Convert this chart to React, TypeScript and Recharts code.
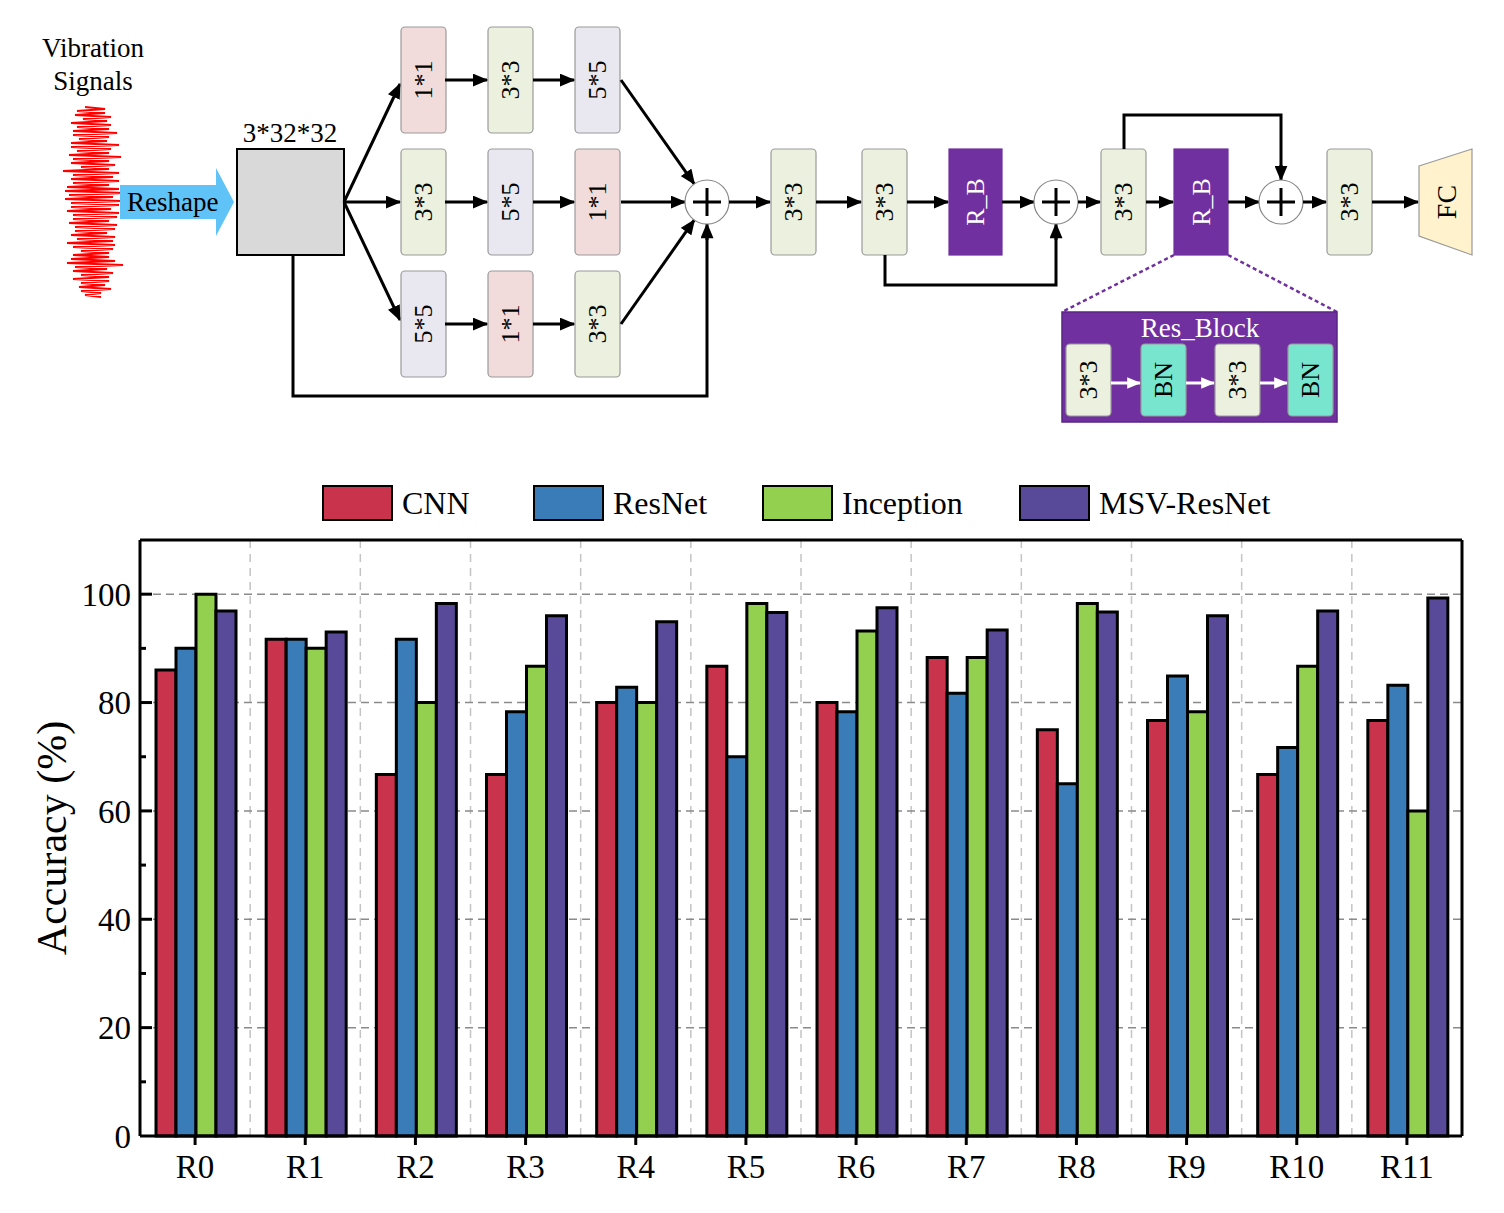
import React from 'react';
import { BarChart, Bar, XAxis, YAxis, CartesianGrid, Legend } from 'recharts';

const SERIF = '"Liberation Serif", "Times New Roman", Times, serif';

// ---------- chart data ----------
const categories = ['R0', 'R1', 'R2', 'R3', 'R4', 'R5', 'R6', 'R7', 'R8', 'R9', 'R10', 'R11'];
const cnnValues = [86, 91.7, 66.7, 66.7, 80, 86.7, 80, 88.3, 75, 76.7, 66.7, 76.7];
const resnetValues = [90, 91.7, 91.7, 78.3, 82.8, 70, 78.3, 81.7, 65, 84.9, 71.7, 83.2];
const inceptionValues = [100, 90, 80, 86.7, 80, 98.3, 93.2, 88.3, 98.3, 78.3, 86.7, 60];
const msvValues = [96.9, 93, 98.3, 96, 94.9, 96.6, 97.5, 93.4, 96.7, 96, 96.9, 99.3];
const seriesNames = ['CNN', 'ResNet', 'Inception', 'MSV-ResNet'];
const seriesColors = ['#C9334C', '#397CB7', '#93D050', '#584A99'];
const yTicks = [0, 10, 20, 30, 40, 50, 60, 70, 80, 90, 100];
const yMajorTicks = [20, 40, 60, 80, 100];
const yLabel = 'Accuracy (%)';

const chartData = categories.map((name, i) => ({
  name,
  CNN: cnnValues[i],
  ResNet: resnetValues[i],
  Inception: inceptionValues[i],
  'MSV-ResNet': msvValues[i],
}));

// ---------- diagram content ----------
const waveAmps = [10, 14, 18, 12, 20, 16, 22, 18, 14, 24, 20, 16, 26, 18, 22, 14, 28, 20, 24, 18, 26, 30, 22, 28,
  24, 20, 26, 22, 18, 24, 20, 16, 22, 18, 24, 20, 14, 18, 22, 28, 16, 20, 14, 18, 12, 16, 10, 8];
const branchRows = [['1*1', '3*3', '5*5'], ['3*3', '5*5', '1*1'], ['5*5', '1*1', '3*3']];
const kernelFill: Record<string, string> = { '1*1': '#F2DCDB', '3*3': '#EBF1DE', '5*5': '#E9E7EF' };
const PURPLE = '#7030A0';

const Block = ({ x, y, w, h, fill, label, color = '#000', stroke = '#9a9a9a', rx = 4, fs = 26 }: any) => (
  <g>
    <rect x={x} y={y} width={w} height={h} rx={rx} fill={fill} stroke={stroke} strokeWidth={1.2} />
    <text
      x={x + w / 2}
      y={y + h / 2}
      transform={`rotate(-90 ${x + w / 2} ${y + h / 2})`}
      textAnchor="middle"
      dominantBaseline="central"
      fontSize={fs}
      fill={color}
      fontFamily={SERIF}
    >
      {label}
    </text>
  </g>
);

const toCircle = (x1: number, y1: number, cx: number, cy: number, r: number) => {
  const dx = cx - x1;
  const dy = cy - y1;
  const len = Math.sqrt(dx * dx + dy * dy);
  return [cx - (r * dx) / len, cy - (r * dy) / len];
};

const Plus = ({ cx, cy }: any) => (
  <g>
    <circle cx={cx} cy={cy} r={22} fill="#fff" stroke="#888" strokeWidth={1.2} />
    <line x1={cx - 14} x2={cx + 14} y1={cy} y2={cy} stroke="#000" strokeWidth={3} />
    <line x1={cx} x2={cx} y1={cy - 14} y2={cy + 14} stroke="#000" strokeWidth={3} />
  </g>
);

const Arrow = ({ x1, y1, x2, y2, white }: any) => (
  <line x1={x1} y1={y1} x2={x2} y2={y2} stroke={white ? '#fff' : '#000'} strokeWidth={3}
    markerEnd={white ? 'url(#ahWhite)' : 'url(#ahBlack)'} />
);

const Diagram = () => {
  const colX = [401, 488, 575];
  const rowTop = [27, 149, 271];
  const rowMid = [80, 202, 324];
  const bw = 45;
  const bh = 106;
  const c1 = [707, 202];
  const c2 = [1056, 202];
  const c3 = [1281, 202];
  const wavePts = waveAmps
    .map((a, i) => {
      const y = 107 + i * 4;
      const off = i % 3 === 0 ? 2 : i % 3 === 1 ? -2 : 0;
      return `${93 - a + off},${y} ${93 + a + off},${y + 2}`;
    })
    .join(' ');
  const e1 = toCircle(621, 80, c1[0], c1[1], 22);
  const e3 = toCircle(621, 324, c1[0], c1[1], 22);
  return (
    <svg width={1504} height={460} style={{ position: 'absolute', left: 0, top: 0 }}>
      <defs>
        <marker id="ahBlack" viewBox="0 0 12 10" refX="11" refY="5" markerWidth="16" markerHeight="13"
          markerUnits="userSpaceOnUse" orient="auto">
          <path d="M0,0 L12,5 L0,10 z" fill="#000" />
        </marker>
        <marker id="ahWhite" viewBox="0 0 12 10" refX="11" refY="5" markerWidth="14" markerHeight="12"
          markerUnits="userSpaceOnUse" orient="auto">
          <path d="M0,0 L12,5 L0,10 z" fill="#fff" />
        </marker>
      </defs>

      {/* input signal */}
      <text x={93} y={57} textAnchor="middle" fontSize={27} fontFamily={SERIF}>Vibration</text>
      <text x={93} y={90} textAnchor="middle" fontSize={27} fontFamily={SERIF}>Signals</text>
      <polyline points={wavePts} fill="none" stroke="#FF0000" strokeWidth={2} />

      {/* reshape arrow */}
      <polygon points="120,185 216,185 216,168 234,202 216,236 216,219 120,219" fill="#5FC3F7" />
      <text x={127} y={211} fontSize={27} fontFamily={SERIF}>Reshape</text>

      {/* input tensor */}
      <text x={290} y={142} textAnchor="middle" fontSize={27} fontFamily={SERIF}>3*32*32</text>
      <rect x={237} y={149} width={107} height={106} fill="#D9D9D9" stroke="#000" strokeWidth={2} />

      {/* branches */}
      <Arrow x1={344} y1={202} x2={400} y2={84} />
      <Arrow x1={344} y1={202} x2={400} y2={202} />
      <Arrow x1={344} y1={202} x2={400} y2={320} />
      {branchRows.map((row, r) =>
        row.map((k, c) => (
          <Block key={`${r}-${c}`} x={colX[c]} y={rowTop[r]} w={bw} h={bh} fill={kernelFill[k]} label={k} />
        ))
      )}
      {rowMid.map((y, r) => (
        <g key={`a${r}`}>
          <Arrow x1={445} y1={y} x2={487} y2={y} />
          <Arrow x1={533} y1={y} x2={574} y2={y} />
        </g>
      ))}
      <Arrow x1={621} y1={80} x2={e1[0]} y2={e1[1]} />
      <Arrow x1={621} y1={202} x2={685} y2={202} />
      <Arrow x1={621} y1={324} x2={e3[0]} y2={e3[1]} />
      <polyline points="293,255 293,396 707,396 707,232" fill="none" stroke="#000" strokeWidth={3} />
      <Arrow x1={707} y1={240} x2={707} y2={224} />
      <Plus cx={c1[0]} cy={c1[1]} />

      {/* main path */}
      <Arrow x1={729} y1={202} x2={770} y2={202} />
      <Block x={771} y={149} w={45} h={106} fill={kernelFill['3*3']} label="3*3" />
      <Arrow x1={816} y1={202} x2={861} y2={202} />
      <Block x={862} y={149} w={45} h={106} fill={kernelFill['3*3']} label="3*3" />
      <Arrow x1={907} y1={202} x2={948} y2={202} />
      <Block x={949} y={149} w={53} h={106} fill={PURPLE} stroke={PURPLE} rx={0} label="R_B" color="#fff" />
      <Arrow x1={1002} y1={202} x2={1034} y2={202} />
      <polyline points="885,255 885,285 1056,285 1056,232" fill="none" stroke="#000" strokeWidth={3} />
      <Arrow x1={1056} y1={240} x2={1056} y2={224} />
      <Plus cx={c2[0]} cy={c2[1]} />
      <Arrow x1={1078} y1={202} x2={1100} y2={202} />
      <Block x={1101} y={149} w={45} h={106} fill={kernelFill['3*3']} label="3*3" />
      <Arrow x1={1146} y1={202} x2={1173} y2={202} />
      <Block x={1174} y={149} w={54} h={106} fill={PURPLE} stroke={PURPLE} rx={0} label="R_B" color="#fff" />
      <Arrow x1={1228} y1={202} x2={1259} y2={202} />
      <polyline points="1124,149 1124,115 1281,115 1281,172" fill="none" stroke="#000" strokeWidth={3} />
      <Arrow x1={1281} y1={165} x2={1281} y2={180} />
      <Plus cx={c3[0]} cy={c3[1]} />
      <Arrow x1={1303} y1={202} x2={1326} y2={202} />
      <Block x={1327} y={149} w={45} h={106} fill={kernelFill['3*3']} label="3*3" />
      <Arrow x1={1372} y1={202} x2={1418} y2={202} />
      <polygon points="1419,166 1472,149 1472,255 1419,236" fill="#FFF2CC" stroke="#999" strokeWidth={1.2} />
      <text x={1446} y={202} transform="rotate(-90 1446 202)" textAnchor="middle" dominantBaseline="central"
        fontSize={28} fontFamily={SERIF}>FC</text>

      {/* residual block detail */}
      <line x1={1174} y1={255} x2={1062} y2={312} stroke={PURPLE} strokeWidth={2.5} strokeDasharray="4 3" />
      <line x1={1228} y1={255} x2={1337} y2={312} stroke={PURPLE} strokeWidth={2.5} strokeDasharray="4 3" />
      <rect x={1062} y={312} width={275} height={110} fill={PURPLE} stroke="#5a2585" strokeWidth={1.5} />
      <text x={1200} y={337} textAnchor="middle" fontSize={27} fill="#fff" fontFamily={SERIF}>Res_Block</text>
      <Block x={1066} y={344} w={45} h={72} fill={kernelFill['3*3']} label="3*3" />
      <Arrow x1={1111} y1={383} x2={1140} y2={383} white />
      <Block x={1141} y={344} w={45} h={72} fill="#78E5CF" label="BN" />
      <Arrow x1={1186} y1={383} x2={1214} y2={383} white />
      <Block x={1215} y={344} w={45} h={72} fill={kernelFill['3*3']} label="3*3" />
      <Arrow x1={1260} y1={383} x2={1287} y2={383} white />
      <Block x={1288} y={344} w={45} h={72} fill="#78E5CF" label="BN" />
    </svg>
  );
};

// ---------- chart pieces ----------
const YTick = (props: any) => {
  const { x, y, payload } = props;
  const v = payload.value;
  const major = v % 20 === 0;
  return (
    <g>
      {v !== 0 && <line x1={x} x2={x + (major ? 12 : 6)} y1={y} y2={y} stroke="#000" strokeWidth={3} />}
      {major && (
        <text x={x - 9} y={y} dy="0.355em" textAnchor="end" fontSize={33} fontFamily={SERIF} fill="#000">
          {v}
        </text>
      )}
    </g>
  );
};

// vertical grid lines sit on the boundaries between category bands
const bandBoundaryGenerator = (args: any) => {
  const { xAxis, offset } = args || {};
  const n = categories.length;
  try {
    const sc = xAxis && xAxis.scale;
    if (sc && typeof sc.bandwidth === 'function' && typeof sc.range === 'function') {
      const bw = sc.bandwidth();
      const r = sc.range();
      const r0 = Math.min(r[0], r[r.length - 1]);
      const pts = categories.slice(1).map((_, i) => r0 + (i + 1) * bw);
      if (pts.every((p) => typeof p === 'number' && isFinite(p))) return pts;
    }
  } catch (e) {
    // fall through
  }
  return categories.slice(1).map((_, i) => offset.left + ((i + 1) * offset.width) / n);
};

const legendItemWidths = [211, 229, 257, 260];

const LegendContent = () => (
  <div style={{ display: 'flex', alignItems: 'center', fontFamily: SERIF, fontSize: 32, color: '#000' }}>
    {seriesNames.map((n, i) => (
      <div key={n} style={{ display: 'flex', alignItems: 'center', width: legendItemWidths[i] }}>
        <div
          style={{
            width: 71,
            height: 36,
            background: seriesColors[i],
            border: '2.5px solid #000',
            boxSizing: 'border-box',
          }}
        />
        <span style={{ marginLeft: 9, lineHeight: '36px' }}>{n}</span>
      </div>
    ))}
  </div>
);

const YLabel = (props: any) => {
  const vb = props.viewBox || {};
  const cx = (vb.x || 0) + 52;
  const cy = (vb.y || 0) + (vb.height || 0) / 2;
  return (
    <text x={cx} y={cy} transform={`rotate(-90 ${cx} ${cy})`} textAnchor="middle" dominantBaseline="central"
      fontSize={42} fontFamily={SERIF} fill="#000">
      {yLabel}
    </text>
  );
};

export default function App() {
  return (
    <div style={{ position: 'absolute', left: 0, top: 0, width: 1504, height: 1213, background: '#fff' }}>
      <Diagram />
      <div style={{ position: 'absolute', left: 0, top: 460 }}>
        <BarChart
          width={1504}
          height={753}
          data={chartData}
          margin={{ top: 79, right: 41, bottom: 0, left: 0 }}
          barCategoryGap={16}
          barGap={0}
        >
          <YAxis yAxisId="ygrid" domain={[0, 110]} ticks={yMajorTicks} hide allowDataOverflow />
          <CartesianGrid horizontal={false} stroke="#c4c4c4" strokeWidth={1.5} strokeDasharray="8 6"
            verticalCoordinatesGenerator={bandBoundaryGenerator} />
          <CartesianGrid yAxisId="ygrid" vertical={false} stroke="#8a8a8a" strokeWidth={1.5} strokeDasharray="8 5" />
          <XAxis
            dataKey="name"
            height={77}
            tickSize={9}
            tickMargin={10}
            interval={0}
            axisLine={{ stroke: '#000', strokeWidth: 3 }}
            tickLine={{ stroke: '#000', strokeWidth: 3 }}
            tick={{ fontSize: 33, fontFamily: SERIF, fill: '#000' }}
          />
          <XAxis xAxisId="top" dataKey="name" orientation="top" height={1} tick={false} tickLine={false}
            axisLine={{ stroke: '#000', strokeWidth: 3 }} />
          <YAxis
            width={140}
            domain={[0, 110]}
            ticks={yTicks}
            interval={0}
            tickSize={0}
            tickMargin={0}
            tickLine={false}
            axisLine={{ stroke: '#000', strokeWidth: 3 }}
            tick={<YTick />}
            label={<YLabel />}
          />
          <YAxis yAxisId="right" orientation="right" width={1} domain={[0, 110]} tick={false} tickLine={false}
            axisLine={{ stroke: '#000', strokeWidth: 3 }} />
          <Legend
            verticalAlign="middle"
            align="center"
            layout="horizontal"
            content={<LegendContent />}
            wrapperStyle={{ top: 25, left: 322, width: 1100, height: 36 }}
          />
          {seriesNames.map((n, i) => (
            <Bar
              key={n}
              dataKey={n}
              name={n}
              fill={seriesColors[i]}
              stroke="#000"
              strokeWidth={3}
              isAnimationActive={false}
            />
          ))}
        </BarChart>
      </div>
    </div>
  );
}
